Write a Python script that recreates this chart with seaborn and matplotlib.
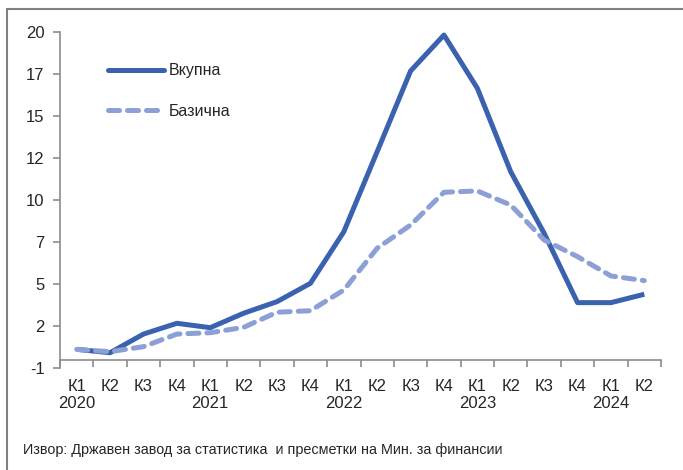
import seaborn as sns
import matplotlib.pyplot as plt
import pandas as pd
import numpy as np
from matplotlib.lines import Line2D

sns.set_style("white")
plt.rcParams['font.family'] = ['Liberation Sans', 'DejaVu Sans']

# quarterly data, 2020 K1 .. 2024 K2
quarters = ["К1", "К2", "К3", "К4"] * 4 + ["К1", "К2"]
years = ["2020", "", "", "", "2021", "", "", "", "2022", "", "", "",
         "2023", "", "", "", "2024", ""]
vkupna = [0.61, 0.41, 1.52, 2.16, 1.90, 2.76, 3.45, 4.54, 7.61, 12.38,
          17.18, 19.32, 16.15, 11.18, 7.52, 3.39, 3.39, 3.89]
bazichna = [0.61, 0.47, 0.77, 1.52, 1.60, 1.92, 2.82, 2.91, 4.14, 6.63,
            8.01, 9.96, 10.04, 9.20, 7.12, 6.13, 4.98, 4.70]

df = pd.DataFrame({
    "idx": np.arange(len(quarters)),
    "Вкупна": vkupna,
    "Базична": bazichna,
})
long = df.melt(id_vars="idx", var_name="serija", value_name="val")

fig = plt.figure(figsize=(6.83, 4.70), dpi=100)
ax = fig.add_axes([60 / 683, 1 - 368 / 470, 601 / 683, 336 / 470])

dark = "#3A62AE"
light = "#8C9FD6"
sns.lineplot(data=long, x="idx", y="val", hue="serija", style="serija",
             palette={"Вкупна": dark, "Базична": light},
             dashes={"Вкупна": "", "Базична": (2.2, 1.6)},
             linewidth=3.6, ax=ax, legend=False)
for ln in ax.get_lines():
    ln.set_solid_capstyle("butt")
    ln.set_dash_capstyle("round")

ax.set_xlim(-0.5, len(quarters) - 0.5)
ax.set_ylim(-0.5, 19.5)
yt = np.arange(-0.5, 19.6, 2.5)
ax.set_yticks(yt)
ax.set_yticklabels(["-1", "2", "5", "7", "10", "12", "15", "17", "20"])

ax.set_xticks(np.arange(len(quarters)))
ax.set_xticklabels([q + "\n" + y for q, y in zip(quarters, years)],
                   linespacing=1.2)
ax.set_xticks(np.arange(-0.5, len(quarters), 1), minor=True)

ax.spines["top"].set_visible(False)
ax.spines["right"].set_visible(False)
ax.spines["bottom"].set_position(("data", 0))
for s in ["left", "bottom"]:
    ax.spines[s].set_color("#8c8c8c")
    ax.spines[s].set_linewidth(1.2)
ax.tick_params(axis="y", which="major", length=5, color="#8c8c8c",
               width=1.2, labelsize=12, pad=6, left=True)
ax.tick_params(axis="x", which="major", length=0, labelsize=12, pad=14)
ax.tick_params(axis="x", which="minor", length=5, color="#8c8c8c",
               width=1.2, bottom=True)
ax.set_xlabel("")
ax.set_ylabel("")

handles = [Line2D([], [], color=dark, lw=3.6, solid_capstyle="round"),
           Line2D([], [], color=light, lw=3.6, dashes=(2.2, 1.6),
                  dash_capstyle="round")]
fig.legend(handles, ["Вкупна", "Базична"], loc="upper left",
           bbox_to_anchor=(108 / 683, 1 - 63.5 / 470), frameon=False,
           fontsize=11.5, handlelength=3.5, handletextpad=0.3,
           labelspacing=1.6, borderpad=0, borderaxespad=0)

fig.text(23 / 683, 1 - 450 / 470,
         "Извор: Државен завод за статистика  и пресметки на Мин. за финансии",
         fontsize=10.4, va="center", ha="left")

# outer frame (left and top only)
fig.add_artist(Line2D([6.5 / 683, 6.5 / 683], [0, 1 - 9 / 470],
                      transform=fig.transFigure, color="#808080", lw=1.5))
fig.add_artist(Line2D([6.5 / 683, 1], [1 - 9 / 470, 1 - 9 / 470],
                      transform=fig.transFigure, color="#808080", lw=1.5))

fig.savefig("out.png", dpi=100)
plt.close(fig)
